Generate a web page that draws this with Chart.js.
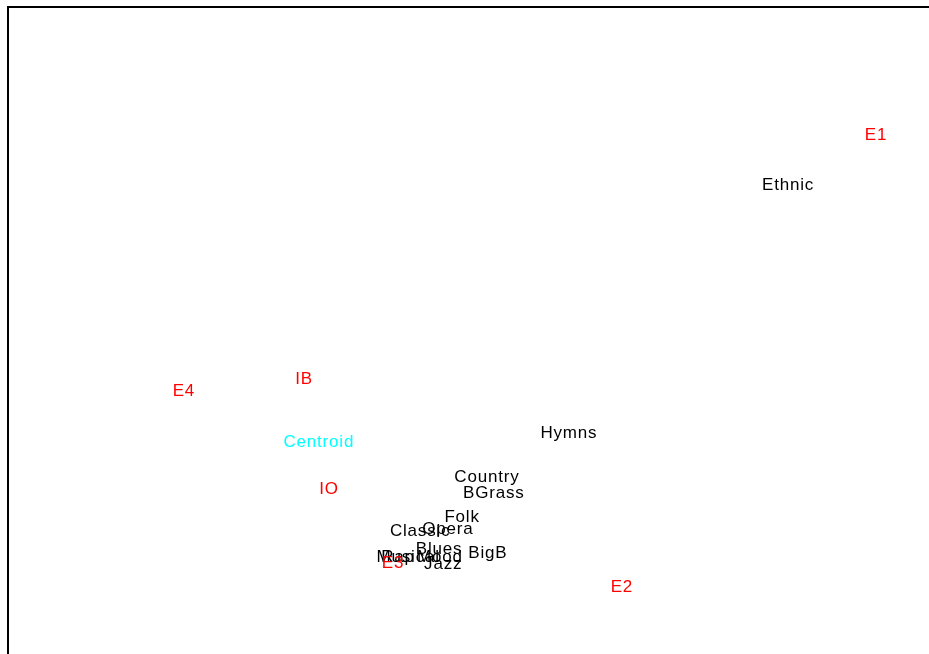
<!DOCTYPE html>
<html>
<head>
<meta charset="utf-8">
<script src="https://cdn.jsdelivr.net/npm/chart.js@4"></script>
<style>
  body { margin: 0; background: #fff; overflow: hidden; }
</style>
</head>
<body>
<canvas id="chart" width="929" height="654"></canvas>
<script>
// genre labels (black)
var genres = ['Ethnic', 'Hymns', 'Country', 'BGrass', 'Folk', 'Classic', 'Opera',
  'Blues', 'BigB', 'Rap', 'Musical', 'Mood', 'Jazz'];
var genreX = [0.694, 0.218, 0.040, 0.055, -0.014, -0.105, -0.045,
  -0.064, 0.042, -0.153, -0.131, -0.062, -0.055];
var genreY = [0.453, -0.314, -0.450, -0.499, -0.573, -0.617, -0.611,
  -0.672, -0.685, -0.697, -0.697, -0.697, -0.719];

// variable labels (red)
var vars = ['E1', 'E2', 'E3', 'E4', 'IB', 'IO'];
var varX = [0.885, 0.333, -0.164, -0.618, -0.357, -0.303];
var varY = [0.607, -0.790, -0.716, -0.184, -0.147, -0.487];

// centroid (cyan)
var centroidX = [-0.325];
var centroidY = [-0.342];

function pts(xs, ys) {
  var out = [];
  for (var i = 0; i < xs.length; i++) out.push({ x: xs[i], y: ys[i] });
  return out;
}

// draws the text label at each point
var textLabels = {
  id: 'textLabels',
  afterDatasetsDraw: function(chart) {
    var ctx = chart.ctx;
    ctx.save();
    ctx.font = '17px "Liberation Sans", Arial, sans-serif';
    ctx.letterSpacing = '0.8px';
    ctx.textAlign = 'center';
    ctx.textBaseline = 'middle';
    chart.data.datasets.forEach(function(ds, i) {
      var meta = chart.getDatasetMeta(i);
      ctx.fillStyle = ds.textColor;
      meta.data.forEach(function(el, j) {
        ctx.fillText(ds.names[j], el.x, el.y + 1);
      });
    });
    ctx.restore();
  }
};

// left and top edges of the plot box
var boxEdge = {
  id: 'boxEdge',
  afterDraw: function(chart) {
    var a = chart.chartArea;
    var ctx = chart.ctx;
    ctx.save();
    ctx.strokeStyle = '#000';
    ctx.lineWidth = 2;
    ctx.beginPath();
    ctx.moveTo(a.left, a.bottom + 5);
    ctx.lineTo(a.left, a.top);
    ctx.lineTo(a.right + 5, a.top);
    ctx.stroke();
    ctx.restore();
  }
};

new Chart(document.getElementById('chart'), {
  type: 'scatter',
  data: {
    datasets: [
      { data: pts(genreX, genreY), names: genres, textColor: '#000000', pointRadius: 0 },
      { data: pts(varX, varY), names: vars, textColor: '#ff0000', pointRadius: 0 },
      { data: pts(centroidX, centroidY), names: ['Centroid'], textColor: '#00ffff', pointRadius: 0 }
    ]
  },
  options: {
    responsive: false,
    animation: false,
    layout: { padding: { left: 8, top: 7, right: 0, bottom: 0 } },
    plugins: { legend: { display: false }, tooltip: { enabled: false } },
    scales: {
      x: { type: 'linear', min: -1, max: 1, display: false },
      y: { type: 'linear', min: -1, max: 1, display: false }
    }
  },
  plugins: [textLabels, boxEdge]
});
</script>
</body>
</html>
